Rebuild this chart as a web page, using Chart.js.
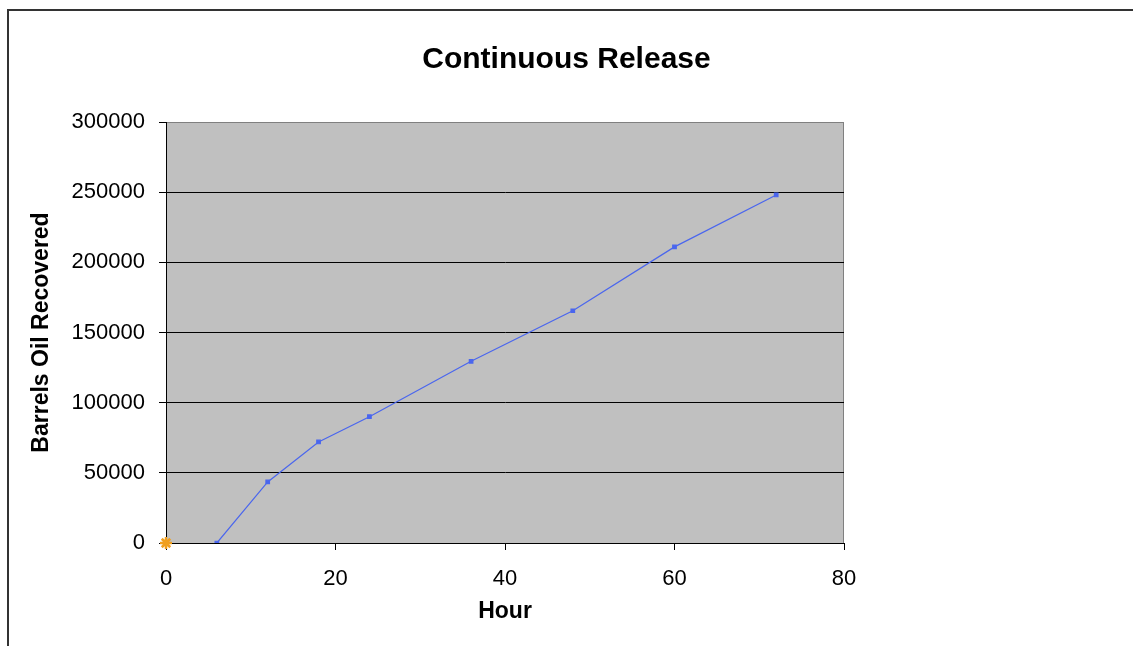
<!DOCTYPE html>
<html>
<head>
<meta charset="utf-8">
<script src="https://cdn.jsdelivr.net/npm/chart.js@4"></script>
<style>
    html, body { margin: 0; padding: 0; background: #fff; }
    #wrap { width: 1133px; height: 646px; }
</style>
</head>
<body>
<div id="wrap"><canvas id="myChart" width="1133" height="646"></canvas></div>
<script>
const hours = [6, 12, 18, 24, 36, 48, 60, 72];
const barrels = [0, 43500, 72000, 90000, 129500, 165500, 211000, 248000];
const startHour = [0];
const startBarrels = [0];
const xTicks = [0, 20, 40, 60, 80];
const yTicks = [0, 50000, 100000, 150000, 200000, 250000, 300000];
const chartTitle = 'Continuous Release';

const FONT = '"Liberation Sans", Arial, sans-serif';

// grey plot area, its border and the frame round the whole chart
const plotBackground = {
    id: 'plotBackground',
    beforeDraw(chart) {
        const {ctx, chartArea: a} = chart;
        ctx.save();
        ctx.fillStyle = '#c0c0c0';
        ctx.fillRect(a.left, a.top, a.right - a.left, a.bottom - a.top);
        ctx.strokeStyle = '#808080';
        ctx.lineWidth = 1;
        ctx.strokeRect(a.left + 0.5, a.top + 0.5, a.right - a.left - 1, a.bottom - a.top);
        ctx.strokeStyle = '#333';
        ctx.lineWidth = 2;
        ctx.beginPath();
        ctx.moveTo(8, chart.height + 2);
        ctx.lineTo(8, 10);
        ctx.lineTo(chart.width + 2, 10);
        ctx.stroke();
        ctx.restore();
    },
    // title centred on the whole canvas, not just the plot
    afterDraw(chart) {
        const {ctx} = chart;
        ctx.save();
        ctx.fillStyle = '#000';
        ctx.font = 'bold 30px ' + FONT;
        ctx.textAlign = 'center';
        ctx.textBaseline = 'middle';
        ctx.fillText(chartTitle, chart.width / 2, 60);
        ctx.restore();
    }
};

const data = {
    datasets: [{
        label: 'Recovered',
        data: hours.map((h, i) => ({x: h, y: barrels[i]})),
        borderColor: '#4a66ee',
        backgroundColor: '#4a66ee',
        borderWidth: 1.2,
        showLine: true,
        pointStyle: 'rect',
        pointRadius: 2.5,
        tension: 0
    }, {
        label: 'Start',
        data: startHour.map((h, i) => ({x: h, y: startBarrels[i]})),
        borderColor: '#f0a020',
        backgroundColor: '#f0a020',
        pointStyle: 'star',
        pointRadius: 6,
        pointBorderWidth: 2.5,
        showLine: false,
        clip: false
    }]
};

const config = {
    type: 'scatter',
    data: data,
    plugins: [plotBackground],
    options: {
        responsive: false,
        animation: false,
        layout: { padding: { left: 0, right: 289, top: 122, bottom: 0 } },
        plugins: {
            legend: { display: false },
            tooltip: { enabled: false },
            title: { display: false }
        },
        scales: {
            x: {
                type: 'linear',
                min: 0,
                max: 80,
                afterBuildTicks(scale) { scale.ticks = xTicks.map(v => ({value: v})); },
                afterFit(scale) { scale.height = 103; },
                grid: {
                    drawOnChartArea: false,
                    drawTicks: true,
                    tickLength: 7,
                    tickColor: '#000'
                },
                border: { color: '#000', width: 1 },
                ticks: {
                    color: '#000',
                    padding: 16,
                    font: { family: FONT, size: 22 }
                },
                title: {
                    display: true,
                    text: 'Hour',
                    color: '#000',
                    font: { family: FONT, size: 23, weight: 'bold', lineHeight: 1.2 },
                    padding: { top: 0, bottom: 21 }
                }
            },
            y: {
                type: 'linear',
                min: 0,
                max: 300000,
                afterBuildTicks(scale) { scale.ticks = yTicks.map(v => ({value: v})); },
                afterFit(scale) { scale.width = 166; },
                grid: {
                    color: ctx => (ctx.tick && ctx.tick.value === 300000) ? '#808080' : '#000',
                    lineWidth: 1,
                    drawTicks: true,
                    tickLength: 7,
                    tickColor: '#000'
                },
                border: { color: '#000', width: 1 },
                ticks: {
                    color: '#000',
                    padding: 14,
                    font: { family: FONT, size: 22 },
                    callback: v => String(v)
                },
                title: {
                    display: true,
                    text: 'Barrels Oil Recovered',
                    color: '#000',
                    font: { family: FONT, size: 23, weight: 'bold', lineHeight: 1.2 },
                    padding: { top: 28, bottom: 0 }
                }
            }
        }
    }
};

const myChart = new Chart(
    document.getElementById('myChart'),
    config
);
</script>
</body>
</html>
